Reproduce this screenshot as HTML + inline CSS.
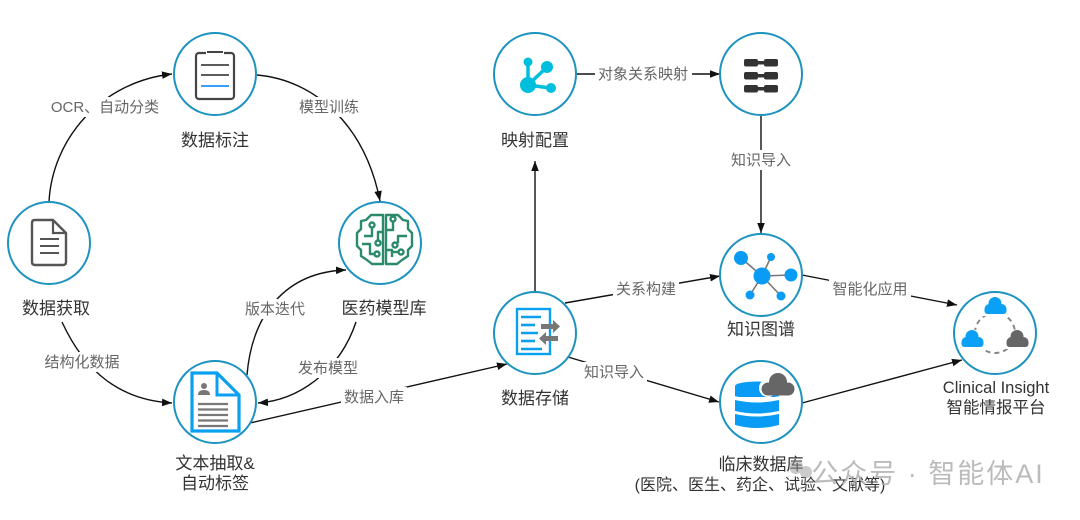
<!DOCTYPE html>
<html><head><meta charset="utf-8"><style>
html,body{margin:0;padding:0;background:#fff;}
svg{display:block;}
.nl{font-family:"Liberation Sans","Noto Sans CJK SC",sans-serif;font-size:17px;fill:#333;text-anchor:middle;}
.el{font-family:"Liberation Sans","Noto Sans CJK SC",sans-serif;font-size:15px;fill:#666;text-anchor:middle;}
.ln{stroke:#111;stroke-width:1.4;fill:none;}
.c{fill:#fff;stroke:#1e93c0;stroke-width:2;}
</style></head><body>
<svg width="1080" height="520" viewBox="0 0 1080 520" xmlns="http://www.w3.org/2000/svg">
<defs>
<marker id="a" viewBox="0 0 10 10" refX="10" refY="5" markerWidth="10" markerHeight="10" markerUnits="userSpaceOnUse" orient="auto"><path d="M0,1.2 L10,5 L0,8.8 z" fill="#111"/></marker>
</defs>

<!-- edges -->
<path class="ln" d="M49,202 C52,140 100,82 172,74" marker-end="url(#a)"/>
<path class="ln" d="M257,75 C315,80 365,125 380,201" marker-end="url(#a)"/>
<path class="ln" d="M62,322 C85,372 120,400 172,403" marker-end="url(#a)"/>
<path class="ln" d="M247,375 C252,315 285,272 346,270" marker-end="url(#a)"/>
<path class="ln" d="M356,322 C340,370 300,400 258,403" marker-end="url(#a)"/>
<path class="ln" d="M250,423 L507,364" marker-end="url(#a)"/>
<path class="ln" d="M535,292 L535,161" marker-end="url(#a)"/>
<path class="ln" d="M576,74 L720,74" marker-end="url(#a)"/>
<path class="ln" d="M761,116 L761,233" marker-end="url(#a)"/>
<path class="ln" d="M565,303 L720,276" marker-end="url(#a)"/>
<path class="ln" d="M568,357 L719,402" marker-end="url(#a)"/>
<path class="ln" d="M802,275 L957,305" marker-end="url(#a)"/>
<path class="ln" d="M802,403 L962,360" marker-end="url(#a)"/>

<!-- edge labels -->
<g>
<rect x="48" y="97" width="114" height="20" fill="#fff"/><text class="el" x="105" y="112">OCR、自动分类</text>
<rect x="296" y="97" width="66" height="20" fill="#fff"/><text class="el" x="329" y="112">模型训练</text>
<rect x="41" y="352" width="82" height="20" fill="#fff"/><text class="el" x="82" y="367">结构化数据</text>
<rect x="243" y="299" width="64" height="20" fill="#fff"/><text class="el" x="275" y="314">版本迭代</text>
<rect x="295" y="358" width="66" height="20" fill="#fff"/><text class="el" x="328" y="373">发布模型</text>
<rect x="341" y="387" width="66" height="20" fill="#fff"/><text class="el" x="374" y="402">数据入库</text>
<rect x="595" y="64" width="97" height="20" fill="#fff"/><text class="el" x="643" y="79">对象关系映射</text>
<rect x="728" y="150" width="66" height="20" fill="#fff"/><text class="el" x="761" y="165">知识导入</text>
<rect x="613" y="279" width="66" height="20" fill="#fff"/><text class="el" x="646" y="294">关系构建</text>
<rect x="581" y="362" width="66" height="20" fill="#fff"/><text class="el" x="614" y="377">知识导入</text>
<rect x="829" y="279" width="82" height="20" fill="#fff"/><text class="el" x="870" y="294">智能化应用</text>
</g>

<!-- circles -->
<circle class="c" cx="215" cy="74" r="41"/>
<circle class="c" cx="49" cy="243" r="41"/>
<circle class="c" cx="380" cy="243" r="41"/>
<circle class="c" cx="215" cy="402" r="41"/>
<circle class="c" cx="535" cy="74" r="41"/>
<circle class="c" cx="761" cy="74" r="41"/>
<circle class="c" cx="761" cy="275" r="41"/>
<circle class="c" cx="535" cy="333" r="41"/>
<circle class="c" cx="761" cy="402" r="41"/>
<circle class="c" cx="995" cy="333" r="41"/>

<!-- clipboard icon -->
<rect x="196" y="53" width="38" height="46" rx="3" fill="none" stroke="#444" stroke-width="2.2"/>
<rect x="206" y="50" width="18" height="5" fill="#fff"/>
<line x1="207" y1="52" x2="223" y2="52" stroke="#444" stroke-width="2"/>
<line x1="201" y1="65" x2="229" y2="65" stroke="#444" stroke-width="1.8"/>
<line x1="201" y1="75" x2="229" y2="75" stroke="#444" stroke-width="1.8"/>
<line x1="201" y1="86" x2="229" y2="86" stroke="#1e90ff" stroke-width="1.8"/>

<!-- document icon (数据获取) -->
<path d="M35,220 L53,220 L66,233 L66,262 Q66,265 63,265 L35,265 Q32,265 32,262 L32,223 Q32,220 35,220 Z" fill="none" stroke="#555" stroke-width="2.4" stroke-linejoin="round"/>
<path d="M53,220 L53,233 L66,233" fill="none" stroke="#555" stroke-width="2.2"/>
<line x1="40" y1="239" x2="59" y2="239" stroke="#555" stroke-width="2"/>
<line x1="40" y1="246" x2="59" y2="246" stroke="#555" stroke-width="2"/>
<line x1="40" y1="253" x2="59" y2="253" stroke="#555" stroke-width="2"/>

<!-- brain icon -->
<g fill="none" stroke="#2a8a6a" stroke-width="2.4" stroke-linejoin="round">
<path d="M383,215 L371,215 L366,220 L361,221 L361,229 L357,233 L357,246 L361,250 L361,256 L367,260 L372,264 L383,264 Z"/>
<path d="M386,215 L398,215 L403,220 L408,221 L408,229 L412,233 L412,246 L408,250 L408,256 L402,260 L397,264 L386,264 Z"/>
<polyline points="364,236 372,236 372,228"/><circle cx="372" cy="225" r="2.5" fill="#fff"/>
<polyline points="383,232 378,232 378,240"/><circle cx="378" cy="243" r="2.5" fill="#fff"/>
<polyline points="362,244 370,244 370,254 374,254"/><circle cx="377" cy="254" r="2.5" fill="#fff"/>
<polyline points="386,230 393,230 393,222"/><circle cx="393" cy="219" r="2.5" fill="#fff"/>
<polyline points="407,236 398,236 398,243"/><circle cx="395" cy="245" r="2.5" fill="#fff"/>
<polyline points="386,250 392,250 392,257"/><circle cx="401" cy="252" r="2.5" fill="#fff"/>
<line x1="398" y1="252" x2="392" y2="252"/>
</g>

<!-- text extraction icon -->
<path d="M192,373 L217,373 L239,395 L239,431 L192,431 Z" fill="#fff" stroke="#0aa0f0" stroke-width="3.2" stroke-linejoin="miter"/>
<path d="M217,373 L217,395 L239,395" fill="none" stroke="#0aa0f0" stroke-width="3"/>
<circle cx="204" cy="386" r="3" fill="#777"/>
<path d="M198,395 Q198,390 204,390 Q210,390 210,395 Z" fill="#777"/>
<g stroke="#777" stroke-width="2.3">
<line x1="198" y1="404" x2="228" y2="404"/>
<line x1="198" y1="409.5" x2="228" y2="409.5"/>
<line x1="198" y1="415" x2="228" y2="415"/>
<line x1="198" y1="420.5" x2="228" y2="420.5"/>
<line x1="198" y1="426" x2="228" y2="426"/>
</g>

<!-- mapping icon -->
<g fill="#00bfdc" stroke="#00bfdc">
<line x1="528" y1="63" x2="528" y2="85" stroke-width="3.5"/>
<line x1="528" y1="85" x2="547" y2="67" stroke-width="3.5"/>
<line x1="528" y1="85" x2="550" y2="88" stroke-width="3.5"/>
<circle cx="528" cy="62" r="4.5" stroke="none"/>
<circle cx="547" cy="67" r="6" stroke="none"/>
<circle cx="528" cy="85" r="8" stroke="none"/>
<circle cx="551" cy="88" r="5" stroke="none"/>
</g>

<!-- table icon -->
<g fill="#333">
<rect x="744" y="59" width="14" height="7.5" rx="2"/><rect x="764" y="59" width="14" height="7.5" rx="2"/><rect x="756" y="61" width="10" height="3.5"/>
<rect x="744" y="72" width="14" height="7.5" rx="2"/><rect x="764" y="72" width="14" height="7.5" rx="2"/><rect x="756" y="74" width="10" height="3.5"/>
<rect x="744" y="85" width="14" height="7.5" rx="2"/><rect x="764" y="85" width="14" height="7.5" rx="2"/><rect x="756" y="87" width="10" height="3.5"/>
</g>

<!-- knowledge graph icon -->
<g stroke="#777" stroke-width="1.6">
<line x1="762" y1="276" x2="741" y2="258"/>
<line x1="762" y1="276" x2="771" y2="257"/>
<line x1="762" y1="276" x2="791" y2="275"/>
<line x1="762" y1="276" x2="750" y2="295"/>
<line x1="762" y1="276" x2="781" y2="296"/>
</g>
<g fill="#0a9cf5">
<circle cx="762" cy="276" r="8.5"/>
<circle cx="741" cy="258" r="7"/>
<circle cx="771" cy="257" r="4"/>
<circle cx="791" cy="275" r="6.5"/>
<circle cx="750" cy="295" r="4.5"/>
<circle cx="781" cy="296" r="4.5"/>
</g>

<!-- data storage icon -->
<rect x="517" y="309" width="33" height="45" fill="none" stroke="#0aa0f0" stroke-width="2.4"/>
<g stroke="#0aa0f0" stroke-width="2.6">
<line x1="521" y1="317" x2="541" y2="317"/>
<line x1="521" y1="325" x2="535" y2="325"/>
<line x1="521" y1="333" x2="538" y2="333"/>
<line x1="521" y1="341" x2="535" y2="341"/>
<line x1="521" y1="349" x2="542" y2="349"/>
</g>
<path d="M541,324 L553,324 L553,320 L560,326.5 L553,333 L553,329 L541,329 Z" fill="#777"/>
<path d="M558,336 L546,336 L546,332 L539,338.5 L546,345 L546,341 L558,341 Z" fill="#777"/>

<!-- database icon -->
<g fill="#0a9cf5">
<ellipse cx="757" cy="386" rx="22" ry="4.5"/>
<rect x="735" y="386" width="44" height="11"/>
<path d="M735,400 Q757,405 779,400 L779,411 Q757,416 735,411 Z"/>
<path d="M735,414 Q757,419 779,414 L779,425 Q757,431 735,425 Z"/>
</g>
<path d="M735,397 Q757,402 779,397" fill="none" stroke="#fff" stroke-width="1.5"/>
<g fill="#fff">
<circle cx="768" cy="388" r="9"/><circle cx="778" cy="382" r="11"/><circle cx="788" cy="388" r="9"/>
</g>
<g fill="#666">
<circle cx="768" cy="389" r="6.5"/><circle cx="778" cy="382" r="9"/><circle cx="788" cy="389" r="6.5"/>
<rect x="765" y="386" width="26" height="9.5" rx="4"/>
</g>

<!-- clinical insight icon -->
<circle cx="995" cy="333" r="20" fill="none" stroke="#888" stroke-width="2" stroke-dasharray="5,4"/>
<g fill="#fff">
<rect x="981" y="297" width="28" height="19"/>
<rect x="959" y="330" width="28" height="19"/>
<rect x="1003" y="330" width="28" height="19"/>
</g>
<g fill="#0aa0f5">
<circle cx="989.5" cy="309" r="5"/><circle cx="995" cy="303.5" r="6.5"/><circle cx="1001.5" cy="309" r="5"/><rect x="984.5" y="307" width="22" height="7" rx="3"/>
<circle cx="966.5" cy="342" r="5"/><circle cx="972" cy="336.5" r="6.5"/><circle cx="978.5" cy="342" r="5"/><rect x="961.5" y="340" width="22" height="7" rx="3"/>
</g>
<g fill="#666">
<circle cx="1011.5" cy="342" r="5"/><circle cx="1017" cy="336.5" r="6.5"/><circle cx="1023.5" cy="342" r="5"/><rect x="1006.5" y="340" width="22" height="7" rx="3"/>
</g>

<!-- node labels -->
<text class="nl" x="215" y="146">数据标注</text>
<text class="nl" x="56" y="314">数据获取</text>
<text class="nl" x="384" y="314">医药模型库</text>
<text class="nl" x="215" y="469">文本抽取&amp;</text>
<text class="nl" x="215" y="489">自动标签</text>
<text class="nl" x="535" y="146">映射配置</text>
<text class="nl" x="761" y="335">知识图谱</text>
<text class="nl" x="535" y="404">数据存储</text>
<text class="nl" x="761" y="470">临床数据库</text>
<text class="nl" x="760" y="490" style="font-size:16px">(医院、医生、药企、试验、文献等)</text>
<text class="nl" x="996" y="393" style="font-size:16.5px">Clinical Insight</text>
<text class="nl" x="996" y="413" style="font-size:16.5px">智能情报平台</text>

<!-- watermark -->
<g fill="#999" opacity="0.5">
<circle cx="796" cy="467" r="7"/><circle cx="806" cy="472" r="6"/>
</g>
<text x="928" y="483" style="font-family:'Liberation Sans','Noto Sans CJK SC',sans-serif;font-size:27px;letter-spacing:2px;fill:#b0b0b0;opacity:0.85;text-anchor:middle;">公众号 · 智能体AI</text>
</svg>
</body></html>
